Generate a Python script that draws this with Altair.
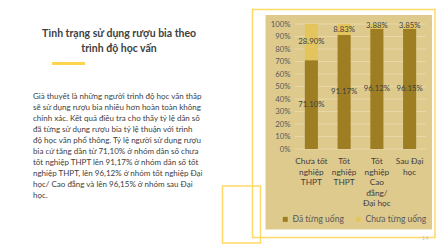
import altair as alt
import pandas as pd

# ---------------- data ----------------
categories = ["Chưa tốt nghiệp THPT", "Tốt nghiệp THPT",
              "Tốt nghiệp Cao đẳng/ Đại học", "Sau Đại học"]
category_labels = ["Chưa tốt\nnghiệp\nTHPT", "Tốt\nnghiệp\nTHPT",
                   "Tốt\nnghiệp\nCao\nđẳng/\nĐại học", "Sau Đại\nhọc"]
series = ["Đã từng uống", "Chưa từng uống"]
da_tung_uong = [71.10, 91.17, 96.12, 96.15]
chua_tung_uong = [28.90, 8.83, 3.88, 3.85]
y_ticks = [0, 10, 20, 30, 40, 50, 60, 70, 80, 90, 100]

title_lines = ["Tình trạng sử dụng rượu bia theo", "trình độ học vấn"]
paragraph_lines = [
    "Giả thuyết là những người trình độ học vấn thấp",
    "sẽ sử dụng rượu bia nhiều hơn hoàn toàn không",
    "chính xác. Kết quả điều tra cho thấy tỷ lệ dân số",
    "đã từng sử dụng rượu bia tỷ lệ thuận với trình",
    "độ học vấn phổ thông. Tỷ lệ người sử dụng rượu",
    "bia cứ tăng dần từ 71,10% ở nhóm dân số chưa",
    "tốt nghiệp THPT lên 91,17% ở nhóm dân số tốt",
    "nghiệp THPT, lên 96,12% ở nhóm tốt nghiệp Đại",
    "học/ Cao đẳng và lên 96,15% ở nhóm sau Đại",
    "học.",
]
page_number = "14"

# ---------------- styling ----------------
FONT = "Lato"
DARK = "#9E7E22"
LIGHT = "#E4C45C"
TAN = "#DFCA8E"
FRAME = "#FFD966"
GRID = "#EADCAE"
TEXT = "#404040"

OX, OY = 295, 24      # plot origin inside the 446x250 page
W, H = 131, 125       # plot area

rows = []
for i, c in enumerate(categories):
    rows.append({"cat": c, "series": series[0], "value": da_tung_uong[i], "ord": 0})
    rows.append({"cat": c, "series": series[1], "value": chua_tung_uong[i], "ord": 1})
df = pd.DataFrame(rows)
ticks_df = pd.DataFrame({"tick": y_ticks})
labels_df = pd.DataFrame({"cat": categories, "label": category_labels})

xscale = alt.Scale(domain=categories, paddingInner=0.6, paddingOuter=0.3)
yscale = alt.Scale(domain=[0, 100], nice=False)
yaxis = alt.Axis(values=y_ticks, labelExpr="datum.value + '%'", grid=False,
                 domain=False, ticks=False, labelPadding=5, labelFontSize=7.8,
                 labelFont=FONT, labelColor="#595959", title=None, zindex=1)


def box(x1, y1, x2, y2, **kw):
    return alt.Chart(alt.Data(values=[{}])).mark_rect(**kw).encode(
        x=alt.value(x1 - OX), x2=alt.value(x2 - OX),
        y=alt.value(y1 - OY), y2=alt.value(y2 - OY))


def free_text(txt, x, y, **kw):
    return alt.Chart(alt.Data(values=[{}])).mark_text(font=FONT, **kw).encode(
        x=alt.value(x - OX), y=alt.value(y - OY), text=alt.value(txt))


tan_bg = box(265.5, 15, 432, 229.5, fill=TAN)
frame1 = box(252.5, 9.5, 435, 237.5, fill=None, filled=False, stroke=FRAME, strokeWidth=1.5)
frame2 = box(222.5, 186, 260.5, 243, fill=None, filled=False, stroke=FRAME, strokeWidth=1.5)
underline = box(52, 62, 85, 65, fill="#FFD54F")

title = free_text("\n".join(title_lines), 119, 34, align="center", fontSize=10.5,
                  fontWeight="bold", color=TEXT, lineBreak="\n", lineHeight=15)
paragraph = free_text("\n".join(paragraph_lines), 33, 96.5, align="left", fontSize=8,
                      color=TEXT, lineBreak="\n", lineHeight=11.1)
page = free_text(page_number, 425, 238, align="center", fontSize=6, color="#C8C8C8")

grid = alt.Chart(ticks_df).mark_rule(color=GRID, strokeWidth=0.8).encode(
    y=alt.Y("tick:Q", scale=yscale, axis=yaxis),
    x=alt.value(0), x2=alt.value(W))

bars = alt.Chart(df).mark_bar().encode(
    x=alt.X("cat:N", sort=categories, scale=xscale, axis=None),
    y=alt.Y("value:Q", stack="zero", scale=yscale, axis=yaxis),
    color=alt.Color("series:N", scale=alt.Scale(domain=series, range=[DARK, LIGHT]),
                    legend=alt.Legend(orient="none", legendX=-14, legendY=191,
                                      direction="horizontal", title=None,
                                      symbolType="square", symbolSize=25,
                                      symbolStrokeWidth=0, labelFontSize=8.5,
                                      labelFont=FONT, labelColor="#595959",
                                      columnPadding=10, labelOffset=3)),
    order=alt.Order("ord:Q", sort="ascending"),
)

values_text = alt.Chart(df).transform_stack(
    stack="value", groupby=["cat"], as_=["v0", "v1"],
    sort=[alt.SortField("ord", order="ascending")]
).transform_calculate(
    mid="(datum.v0 + datum.v1) / 2",
    lab="format(datum.value, '.2f') + '%'"
).mark_text(font=FONT, fontSize=7.8, color=TEXT).encode(
    x=alt.X("cat:N", sort=categories, scale=xscale, axis=None),
    y=alt.Y("mid:Q", scale=yscale, axis=yaxis),
    text="lab:N",
)

xlabels = alt.Chart(labels_df).mark_text(
    font=FONT, fontSize=8.3, color=TEXT, lineBreak="\n", lineHeight=10.6,
    align="center", baseline="alphabetic"
).encode(
    x=alt.X("cat:N", sort=categories, scale=xscale, axis=None),
    y=alt.value(164 - OY),
    text="label:N",
)

chart = alt.layer(
    tan_bg, frame1, frame2, underline, title, paragraph, page,
    grid, bars, values_text, xlabels
).properties(
    width=W, height=H,
    padding={"left": OX, "top": OY, "right": 446 - OX - W, "bottom": 250 - OY - H},
    autosize=alt.AutoSizeParams(type="none"),
    background="white",
).configure_view(stroke=None)

chart.save("out.html", embed_options={"renderer": "svg", "actions": False})
